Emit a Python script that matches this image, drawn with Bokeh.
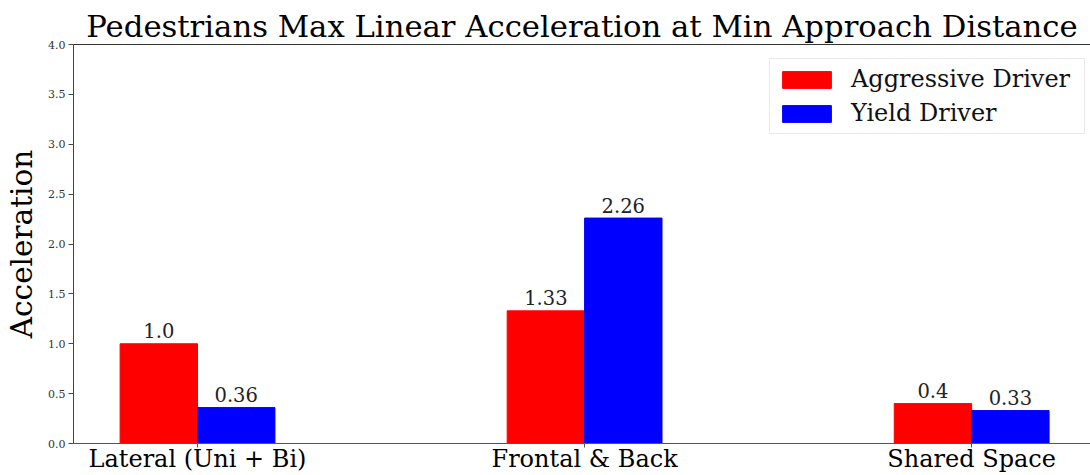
import numpy as np
from bokeh.plotting import figure
from bokeh.models import (ColumnDataSource, Range1d, SingleIntervalTicker, NumeralTickFormatter,
                          FixedTicker, LinearAxis, Legend, LegendItem, Title)
from bokeh.transform import dodge
from bokeh.core.properties import value
from bokeh.embed import file_html
from bokeh.resources import INLINE

categories = ["Lateral (Uni + Bi)", "Frontal & Back", "Shared Space"]
aggressive = [1.0, 1.33, 0.4]
yielding = [0.36, 2.26, 0.33]
series_names = ["Aggressive Driver", "Yield Driver"]
title_text = "Pedestrians Max Linear Acceleration at Min Approach Distance"
y_label = "Acceleration"

FONT = "DejaVu Serif"
idx = list(range(len(categories)))
src = ColumnDataSource(dict(
    idx=idx,
    agg=aggressive,
    yld=yielding,
    agg_txt=[str(v) for v in aggressive],
    yld_txt=[str(v) for v in yielding],
))

p = figure(width=1090, height=475, output_backend="svg", toolbar_location=None,
           x_range=Range1d(-0.3204, 2.307), y_range=Range1d(0, 4.0),
           min_border_left=73, min_border_top=44, min_border_bottom=0, min_border_right=0)

p.title = Title(text=title_text, align="center", text_font=FONT, text_font_size="30.7px",
                text_font_style="normal", text_color="black", offset=0, standoff=2)

bw = 0.2
r1 = p.vbar(x=dodge("idx", -bw / 2, range=p.x_range), top="agg", width=bw, bottom=0, source=src,
            fill_color="#ff0000", line_color="#ff0000")
r2 = p.vbar(x=dodge("idx", bw / 2, range=p.x_range), top="yld", width=bw, bottom=0, source=src,
            fill_color="#0000ff", line_color="#0000ff")

p.text(x=dodge("idx", -bw / 2, range=p.x_range), y="agg", text="agg_txt", source=src,
       text_align="center", text_baseline="alphabetic", y_offset=-13,
       text_font=value(FONT), text_font_size="19.5px", text_color="#222222")
p.text(x=dodge("idx", bw / 2, range=p.x_range), y="yld", text="yld_txt", source=src,
       text_align="center", text_baseline="alphabetic", y_offset=-13,
       text_font=value(FONT), text_font_size="19.5px", text_color="#222222")

p.xgrid.visible = False
p.ygrid.visible = False
p.outline_line_color = None

# y axis
ya = p.yaxis[0]
ya.ticker = SingleIntervalTicker(interval=0.5)
ya.formatter = NumeralTickFormatter(format="0.0")
ya.minor_tick_line_color = None
ya.major_tick_out = 5
ya.major_tick_in = 0
ya.major_label_standoff = 3
ya.major_label_text_font = FONT
ya.major_label_text_font_size = "11px"
ya.major_label_text_color = "#333333"
ya.axis_line_color = "#444444"
ya.major_tick_line_color = "#444444"
ya.axis_label = y_label
ya.axis_label_text_font = FONT
ya.axis_label_text_font_size = "29.5px"
ya.axis_label_text_font_style = "normal"
ya.axis_label_text_color = "black"
ya.axis_label_standoff = 6

# x axis
xa = p.xaxis[0]
xa.ticker = FixedTicker(ticks=idx)
xa.major_label_overrides = {i: c for i, c in zip(idx, categories)}
xa.minor_tick_line_color = None
xa.major_tick_out = 4
xa.major_tick_in = 0
xa.major_label_standoff = -3
xa.major_label_text_font = FONT
xa.major_label_text_font_size = "24px"
xa.major_label_text_color = "black"
xa.axis_line_color = "#555555"
xa.major_tick_line_color = "#555555"

# top spine
top = LinearAxis(ticker=FixedTicker(ticks=[]), major_label_text_font_size="0px",
                 major_tick_line_color=None, minor_tick_line_color=None,
                 axis_line_color="#333333")
p.add_layout(top, "above")

legend = Legend(items=[LegendItem(label=series_names[0], renderers=[r1]),
                       LegendItem(label=series_names[1], renderers=[r2])],
                location=(696, 309), label_text_font=FONT, label_text_font_size="24px",
                label_text_color="#111111", glyph_width=61, glyph_height=21,
                label_standoff=14, label_width=227, padding=6, spacing=6, margin=0,
                border_line_color="#d5d5d5", background_fill_alpha=0.9)
p.add_layout(legend, "center")

open("out.html", "w").write(file_html(p, INLINE))
